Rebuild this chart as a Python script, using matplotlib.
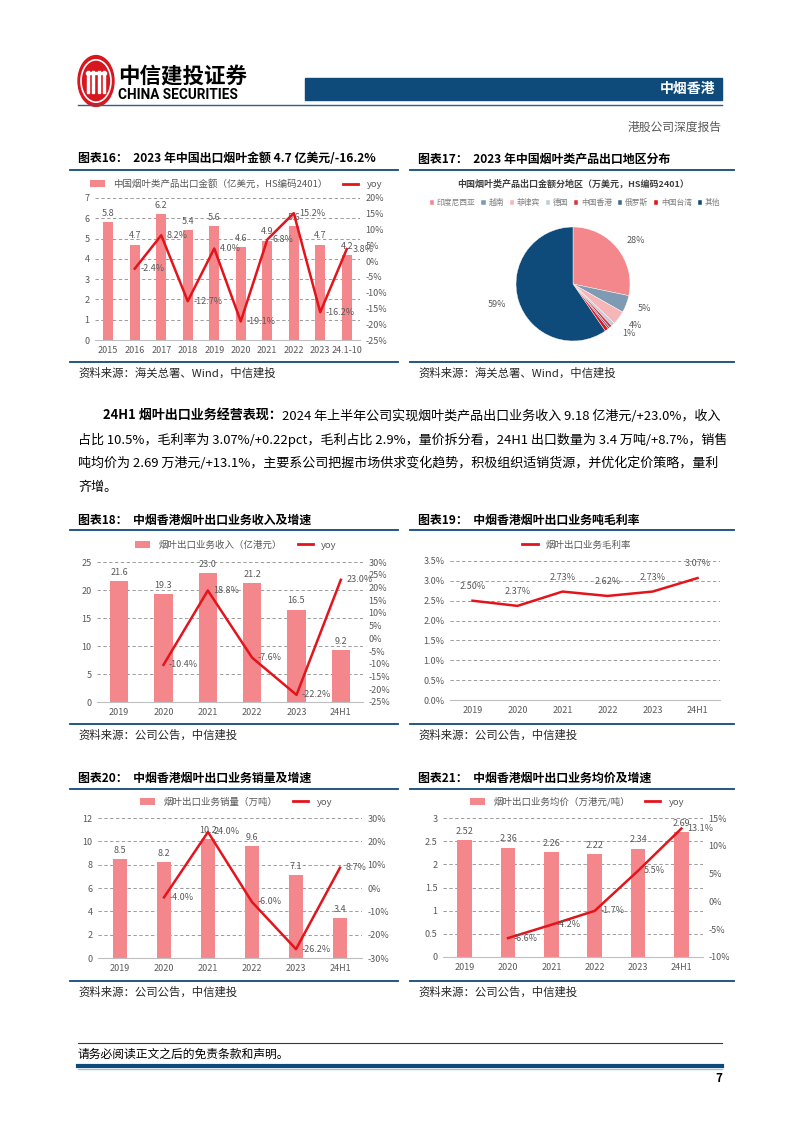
import numpy as np
import matplotlib
matplotlib.use("Agg")
import matplotlib.pyplot as plt
from matplotlib.lines import Line2D
from matplotlib.patches import Patch, Rectangle, Circle

plt.rcParams['font.family'] = ['Noto Sans CJK SC', 'DejaVu Sans']
plt.rcParams['axes.unicode_minus'] = False

# ---- 数据 ----
# 图表16
yrs16 = ["2015", "2016", "2017", "2018", "2019", "2020", "2021", "2022", "2023", "24.1-10"]
amt16 = [5.8, 4.7, 6.2, 5.4, 5.6, 4.6, 4.9, 5.6, 4.7, 4.2]
yoy16 = [-2.4, 8.2, -12.7, 4.0, -19.1, 6.8, 15.2, -16.2, 3.8]

# 图表17
regions = ["印度尼西亚", "越南", "菲律宾", "德国", "中国香港", "俄罗斯", "中国台湾", "其他"]
shares = [28.2, 4.9, 3.9, 1.0, 0.8, 0.5, 1.0, 59.4]
share_lbls = ["28%", "5%", "4%", "1%", "", "", "", "59%"]

# 图表18-21
yrs = ["2019", "2020", "2021", "2022", "2023", "24H1"]
rev = [21.6, 19.3, 23.0, 21.2, 16.5, 9.2]
rev_yoy = [-10.4, 18.8, -7.6, -22.2, 23.0]
margin = [2.50, 2.37, 2.73, 2.62, 2.73, 3.07]
vol = [8.5, 8.2, 10.2, 9.6, 7.1, 3.4]
vol_yoy = [-4.0, 24.0, -6.0, -26.2, 8.7]
price = [2.52, 2.36, 2.26, 2.22, 2.34, 2.69]
price_yoy = [-6.6, -4.2, -1.7, 5.5, 13.1]

PINK = '#F4878B'
RED = '#E3141B'
NAVY = '#0E4A7A'
GRAY = '#595959'

W, H = 802, 1133
fig = plt.figure(figsize=(W / 100, H / 100), dpi=100)


def px_ax(x0, y0, x1, y1):
    return fig.add_axes([x0 / W, 1 - y1 / H, (x1 - x0) / W, (y1 - y0) / H])


def ftext(x, y, s, **kw):
    kw.setdefault('va', 'center')
    return fig.text(x / W, 1 - y / H, s, **kw)


def hline(x0, x1, y, lw=1.0, color=NAVY):
    fig.add_artist(Line2D([x0 / W, x1 / W], [1 - y / H, 1 - y / H], lw=lw, color=color,
                          transform=fig.transFigure))


# ---- 页眉 ----
logo = Circle((96 / W, 1 - 81 / H), 18 / W, transform=fig.transFigure, color='#D7171F')
fig.add_artist(logo)
ring = Circle((96 / W, 1 - 81 / H), 15 / W, transform=fig.transFigure, fill=False, ec='white', lw=1.2)
fig.add_artist(ring)
for dx in [-8, -3, 3, 8]:
    fig.add_artist(Rectangle(((96 + dx - 1.2) / W, 1 - 93 / H), 2.4 / W, 22 / H,
                             transform=fig.transFigure, color='white'))
fig.add_artist(Rectangle((86 / W, 1 - 74 / H), 20 / W, 2.2 / H, transform=fig.transFigure, color='white'))
ftext(118, 76, "中信建投证券", fontsize=15.5, fontweight='bold', color='black')
ftext(118, 95, "CHINA SECURITIES", fontsize=9.8, fontweight='bold', color='black',
      family=['Roboto', 'DejaVu Sans'])
fig.add_artist(Rectangle((305 / W, 1 - 100 / H), 417 / W, 22 / H, transform=fig.transFigure, color=NAVY))
ftext(715, 89, "中烟香港", fontsize=10, fontweight='bold', color='white', ha='right')
hline(78, 722, 105, lw=1.0, color='#2E5F8A')
ftext(722, 127, "港股公司深度报告", fontsize=8.5, color=GRAY, ha='right')


def chart_frame(x0, x1, ytitle, title, ysrc, src):
    ftext(x0 + 8, ytitle, title, fontsize=8.6, fontweight='bold', color='black')
    hline(x0, x1, ytitle + 10.5, lw=1.3)
    hline(x0, x1, ysrc, lw=1.3)
    ftext(x0 + 8, ysrc + 11, src, fontsize=8.2, color='#262626', style='italic')


def style_ax(ax):
    for s in ['top', 'left', 'right']:
        ax.spines[s].set_visible(False)
    ax.spines['bottom'].set_color('#BFBFBF')
    ax.tick_params(length=0, labelsize=6.5, colors=GRAY, pad=4)
    ax.grid(axis='y', linestyle=(0, (4, 3)), color='#8C8C8C', lw=0.6)
    ax.set_axisbelow(True)


def combo(box, cats, bars, yoy, bw, ylim, yticks, ylbls, y2lim, y2ticks, fmt,
          bar_name, leg_xy):
    ax = px_ax(*box)
    x = np.arange(len(cats))
    ax.bar(x, bars, width=bw, color=PINK, zorder=2)
    ax.set_xlim(-0.5, len(cats) - 0.5)
    ax.set_ylim(*ylim)
    ax.set_yticks(yticks)
    ax.set_yticklabels(ylbls)
    ax.set_xticks(x)
    ax.set_xticklabels(cats)
    style_ax(ax)
    for xi, v in zip(x, bars):
        ax.annotate(fmt.format(v), (xi, v), xytext=(0, 3), textcoords='offset points',
                    ha='center', va='bottom', fontsize=6.5, color=GRAY)
    ax2 = ax.twinx()
    xs = x[len(cats) - len(yoy):]
    ax2.plot(xs, yoy, color=RED, lw=1.8, zorder=3)
    ax2.set_ylim(*y2lim)
    ax2.set_yticks(y2ticks)
    ax2.set_yticklabels([f"{t:d}%" for t in y2ticks])
    for s in ax2.spines.values():
        s.set_visible(False)
    ax2.tick_params(length=0, labelsize=6.5, colors=GRAY, pad=4)
    for xi, v in zip(xs, yoy):
        ax2.annotate(f"{v:.1f}%", (xi, v), xytext=(4, 0), textcoords='offset points',
                     ha='left', va='center', fontsize=6.5, color=GRAY)
    handles = [Patch(facecolor=PINK), Line2D([], [], color=RED, lw=2)]
    ax.legend(handles, [bar_name, "yoy"], loc='center', ncol=2, frameon=False,
              bbox_to_anchor=(leg_xy[0] / W, 1 - leg_xy[1] / H), bbox_transform=fig.transFigure,
              fontsize=6.8, labelcolor=GRAY, handlelength=1.6, handleheight=0.7,
              columnspacing=1.6, handletextpad=0.9)
    return ax


# ---- 图表16 ----
chart_frame(70, 398, 159, "图表16：  2023 年中国出口烟叶金额 4.7 亿美元/-16.2%", 362,
            "资料来源：海关总署、Wind，中信建投")
combo((95, 198, 360, 340), yrs16, amt16, yoy16, 0.38, (0, 7), range(0, 8),
      [str(t) for t in range(0, 8)], (-25, 20), list(range(-25, 21, 5)), "{:.1f}",
      "中国烟叶类产品出口金额（亿美元，HS编码2401）", (236, 184))

# ---- 图表17 ----
chart_frame(410, 734, 159, "图表17：  2023 年中国烟叶类产品出口地区分布", 362,
            "资料来源：海关总署、Wind，中信建投")
ftext(573, 184, "中国烟叶类产品出口金额分地区（万美元，HS编码2401）", fontsize=6.5, color='#404040',
      ha='center', fontweight='bold')
pie_colors = [PINK, '#7F9BB4', '#F6B6B8', '#BFCDDB', '#D9383F', '#3E6A90', RED, NAVY]
axp = px_ax(573 - 57, 284 - 57, 573 + 57, 284 + 57)
wedges, lbl_txt = axp.pie(shares, colors=pie_colors, startangle=90, counterclock=False,
                          labels=share_lbls, labeldistance=1.22,
                          textprops=dict(fontsize=6.5, color=GRAY),
                          wedgeprops=dict(edgecolor='white', linewidth=0.3))
axp.set_xlim(-1, 1)
axp.set_ylim(-1, 1)
fig.legend(wedges, regions, loc='center', ncol=8, frameon=False,
           bbox_to_anchor=(575 / W, 1 - 203 / H), fontsize=5.6, labelcolor='#7F7F7F',
           handlelength=0.55, handleheight=0.55, handletextpad=0.35, columnspacing=0.75)

# ---- 正文 ----
renderer = fig.canvas.get_renderer()
PFS = 9.4
t0 = ftext(103, 416, "24H1 烟叶出口业务经营表现：", fontsize=PFS, fontweight='bold', color='black')
bb = t0.get_window_extent(renderer=renderer)
ftext(bb.x1, 416, "2024 年上半年公司实现烟叶类产品出口业务收入 9.18 亿港元/+23.0%，收入",
      fontsize=PFS, color='black')
body = ["占比 10.5%，毛利率为 3.07%/+0.22pct，毛利占比 2.9%，量价拆分看，24H1 出口数量为 3.4 万吨/+8.7%，销售",
        "吨均价为 2.69 万港元/+13.1%，主要系公司把握市场供求变化趋势，积极组织适销货源，并优化定价策略，量利",
        "齐增。"]
for i, s in enumerate(body):
    ftext(78, 440 + i * 23.5, s, fontsize=PFS, color='black')

# ---- 图表18 ----
chart_frame(70, 398, 520, "图表18：  中烟香港烟叶出口业务收入及增速", 724,
            "资料来源：公司公告，中信建投")
combo((97, 562, 363, 702), yrs, rev, rev_yoy, 0.42, (0, 25), range(0, 26, 5),
      [str(t) for t in range(0, 26, 5)], (-25, 30), list(range(-25, 31, 5)), "{:.1f}",
      "烟叶出口业务收入（亿港元）", (236, 545))

# ---- 图表19 ----
chart_frame(410, 734, 520, "图表19：  中烟香港烟叶出口业务吨毛利率", 724,
            "资料来源：公司公告，中信建投")
ax19 = px_ax(450, 561, 720, 700)
x19 = np.arange(len(yrs))
ax19.plot(x19, margin, color=RED, lw=1.8)
ax19.set_xlim(-0.5, len(yrs) - 0.5)
ax19.set_ylim(0, 3.5)
yt19 = np.arange(0, 3.51, 0.5)
ax19.set_yticks(yt19)
ax19.set_yticklabels([f"{t:.1f}%" for t in yt19])
ax19.set_xticks(x19)
ax19.set_xticklabels(yrs)
style_ax(ax19)
for xi, v in zip(x19, margin):
    ax19.annotate(f"{v:.2f}%", (xi, v), xytext=(0, 7), textcoords='offset points',
                  ha='center', va='bottom', fontsize=6.5, color=GRAY)
ax19.legend([Line2D([], [], color=RED, lw=2)], ["烟叶出口业务毛利率"], loc='center', frameon=False,
            bbox_to_anchor=(577 / W, 1 - 545 / H), bbox_transform=fig.transFigure,
            fontsize=6.8, labelcolor=GRAY, handlelength=1.6, handletextpad=0.9)

# ---- 图表20 ----
chart_frame(70, 398, 778, "图表20：  中烟香港烟叶出口业务销量及增速", 981,
            "资料来源：公司公告，中信建投")
combo((98, 818, 362, 958), yrs, vol, vol_yoy, 0.32, (0, 12), range(0, 13, 2),
      [str(t) for t in range(0, 13, 2)], (-30, 30), list(range(-30, 31, 10)), "{:.1f}",
      "烟叶出口业务销量（万吨）", (236, 802))

# ---- 图表21 ----
chart_frame(410, 734, 778, "图表21：  中烟香港烟叶出口业务均价及增速", 981,
            "资料来源：公司公告，中信建投")
yt21 = [0, 0.5, 1, 1.5, 2, 2.5, 3]
combo((443, 818, 703, 957), yrs, price, price_yoy, 0.34, (0, 3), yt21,
      ["0", "0.5", "1", "1.5", "2", "2.5", "3"], (-10, 15), list(range(-10, 16, 5)), "{:.2f}",
      "烟叶出口业务均价（万港元/吨）", (577, 802))

# ---- 页脚 ----
hline(78, 722, 1043, lw=0.8, color='#1F3F60')
ftext(78, 1054, "请务必阅读正文之后的免责条款和声明。", fontsize=8.5, color='black')
hline(78, 722, 1066, lw=3, color=NAVY)
hline(78, 722, 1069, lw=1, color='#9DC3E6')
ftext(722, 1078, "7", fontsize=8.5, fontweight='bold', color='black', ha='right')

fig.savefig("out.png", dpi=100)
